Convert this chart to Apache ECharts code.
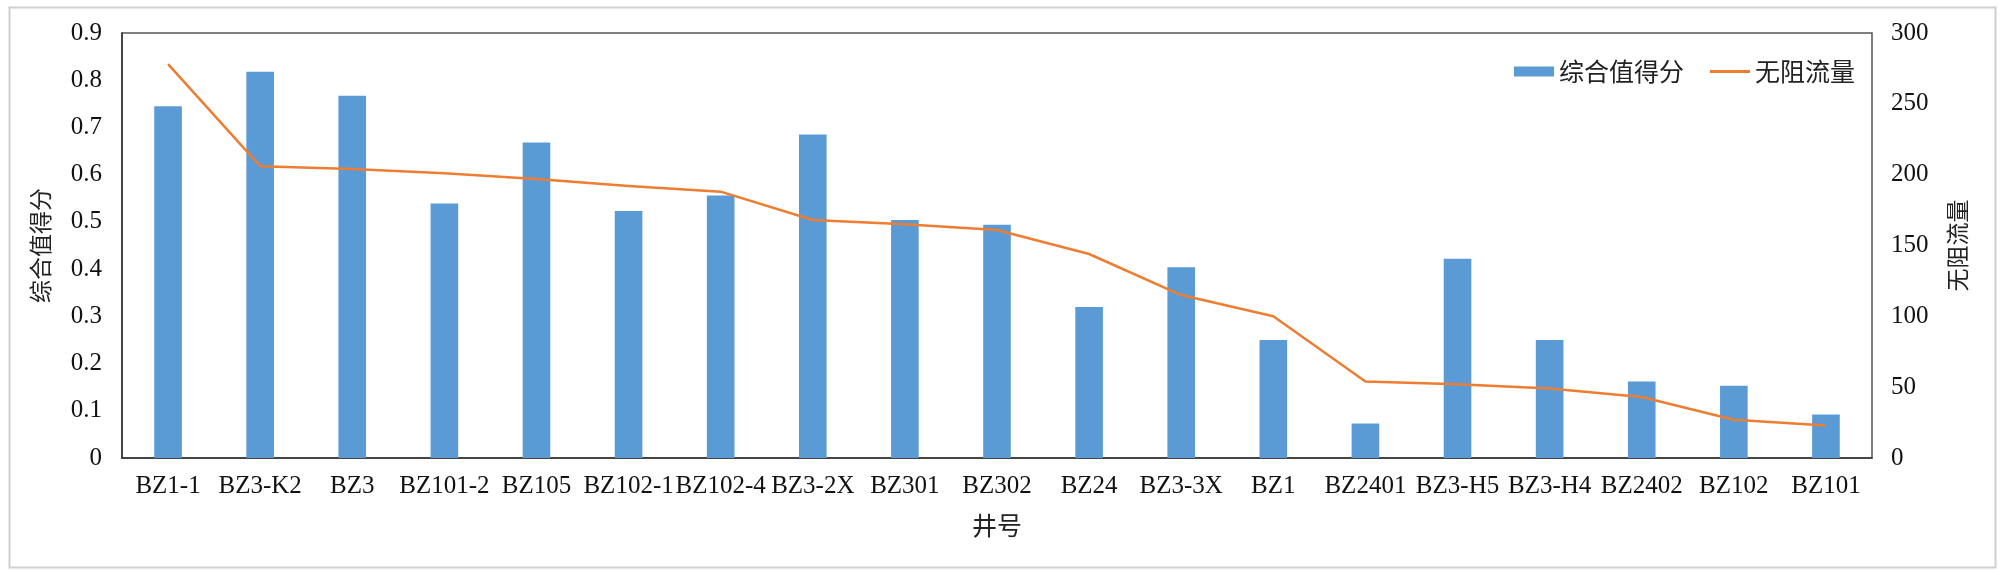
<!DOCTYPE html>
<html>
<head>
<meta charset="utf-8">
<script src="https://cdn.jsdelivr.net/npm/echarts@6/dist/echarts.min.js"></script>
<style>
html,body{margin:0;padding:0;background:#fff;}
#c{width:2000px;height:570px;}
</style>
</head>
<body>
<div id="c"></div>
<script>
const categories = ['BZ1-1','BZ3-K2','BZ3','BZ101-2','BZ105','BZ102-1','BZ102-4','BZ3-2X','BZ301','BZ302','BZ24','BZ3-3X','BZ1','BZ2401','BZ3-H5','BZ3-H4','BZ2402','BZ102','BZ101'];
const scoreValues = [0.745,0.818,0.767,0.539,0.668,0.523,0.556,0.685,0.504,0.494,0.320,0.404,0.250,0.073,0.422,0.250,0.162,0.153,0.092];
const flowValues = [278,206,204,201,197,192,188,168,165,161,144,115,100,54,52,49,43,27,23];
const seriesNames = ['综合值得分','无阻流量'];
const xAxisName = '井号';

const serif = "'Liberation Serif','Noto Sans CJK SC',serif";
const cjk = "'Noto Sans CJK SC','Liberation Serif',serif";

const chart = echarts.init(document.getElementById('c'));
chart.setOption({
  backgroundColor: '#ffffff',
  animation: false,
  graphic: [{
    type: 'rect',
    left: 7, top: 5,
    shape: {width: 1986, height: 560},
    style: {fill: 'none', stroke: '#d0d0d0', lineWidth: 2},
    silent: true
  }],
  grid: {
    left: 122, right: 128, top: 33, bottom: 112,
    show: true, borderColor: '#555555', borderWidth: 1.5, backgroundColor: 'transparent'
  },
  legend: {
    right: 140, top: 54,
    itemGap: 26,
    itemWidth: 40, itemHeight: 10,
    textStyle: {fontFamily: cjk, fontSize: 25, color: '#222'},
    data: [
      {name: seriesNames[0], icon: 'rect'},
      {name: seriesNames[1], icon: 'path://M0,0 M0,3.5 L40,3.5 L40,6.5 L0,6.5 Z M40,10'}
    ]
  },
  xAxis: {
    type: 'category',
    data: categories,
    name: xAxisName,
    nameLocation: 'middle',
    nameGap: 55,
    nameTextStyle: {fontFamily: cjk, fontSize: 25, color: '#222'},
    axisLine: {lineStyle: {color: '#333', width: 1.5}},
    axisTick: {show: false},
    axisLabel: {fontFamily: serif, fontSize: 25, color: '#111', margin: 16, interval: 0}
  },
  yAxis: [{
    type: 'value', min: 0, max: 0.9, interval: 0.1,
    name: seriesNames[0],
    nameLocation: 'middle', nameGap: 70, nameRotate: 90,
    nameTextStyle: {fontFamily: cjk, fontSize: 23, color: '#222'},
    axisLine: {show: true, lineStyle: {color: '#333', width: 1.5}},
    axisTick: {show: false},
    splitLine: {show: false},
    axisLabel: {fontFamily: serif, fontSize: 25, color: '#111', margin: 20,
      formatter: v => v === 0 ? '0' : v.toFixed(1)}
  }, {
    type: 'value', min: 0, max: 300, interval: 50,
    name: seriesNames[1],
    nameLocation: 'middle', nameGap: 74, nameRotate: 90,
    nameTextStyle: {fontFamily: cjk, fontSize: 23, color: '#222'},
    axisLine: {show: false},
    axisTick: {show: false},
    splitLine: {show: false},
    axisLabel: {fontFamily: serif, fontSize: 25, color: '#111', margin: 19}
  }],
  series: [{
    name: seriesNames[0],
    type: 'bar',
    yAxisIndex: 0,
    data: scoreValues,
    barWidth: '30%',
    itemStyle: {color: '#5B9BD5'}
  }, {
    name: seriesNames[1],
    type: 'line',
    yAxisIndex: 1,
    data: flowValues,
    showSymbol: false,
    symbol: 'none',
    lineStyle: {color: '#ED7D31', width: 2.5},
    itemStyle: {color: '#ED7D31'}
  }]
});
</script>
</body>
</html>
